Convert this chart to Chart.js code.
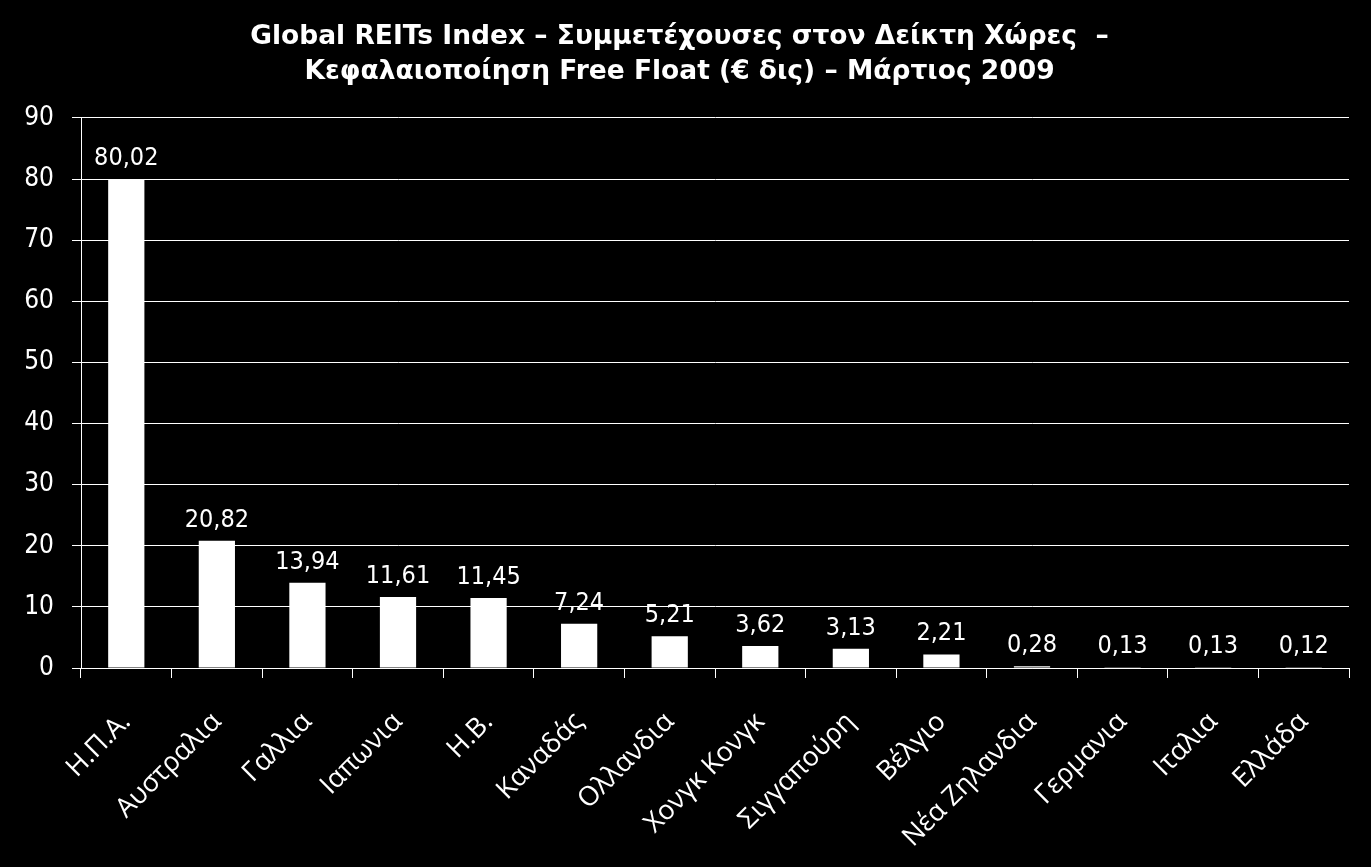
<!DOCTYPE html>
<html>
<head>
<meta charset="utf-8">
<script src="https://cdn.jsdelivr.net/npm/chart.js@4.4.1/dist/chart.umd.min.js"></script>
<style>
  html, body { margin: 0; padding: 0; background: #000; }
  #wrap { width: 1371px; height: 867px; }
</style>
</head>
<body>
<div id="wrap"><canvas id="chart"></canvas></div>
<script>
const countries = ['Η.Π.Α.', 'Αυστραλια', 'Γαλλια', 'Ιαπωνια', 'Η.Β.', 'Καναδάς', 'Ολλανδια',
    'Χονγκ Κονγκ', 'Σιγγαπούρη', 'Βέλγιο', 'Νέα Ζηλανδια', 'Γερμανια', 'Ιταλια', 'Ελλάδα'];
const capValues = [80.02, 20.82, 13.94, 11.61, 11.45, 7.24, 5.21, 3.62, 3.13, 2.21, 0.28, 0.13, 0.13, 0.12];
const titleLines = ['Global REITs Index – Συμμετέχουσες στον Δείκτη Χώρες  –',
    'Κεφαλαιοποίηση Free Float (€ δις) – Μάρτιος 2009'];

const NUM_FONT = "'DejaVu Sans Condensed', 'DejaVu Sans', sans-serif";
const LABEL_FONT = "'Open Sans', 'DejaVu Sans', sans-serif";

// draws the value above each bar, greek style decimals
const valueLabels = {
    id: 'valueLabels',
    afterDatasetsDraw(chart) {
        const ctx = chart.ctx;
        const meta = chart.getDatasetMeta(0);
        ctx.save();
        ctx.fillStyle = '#fff';
        ctx.font = '25px ' + NUM_FONT;
        ctx.textAlign = 'center';
        ctx.textBaseline = 'bottom';
        meta.data.forEach((bar, i) => {
            const txt = capValues[i].toFixed(2).replace('.', ',');
            ctx.fillText(txt, bar.x, bar.y - 8);
        });
        ctx.restore();
    }
};

new Chart(document.getElementById('chart'), {
    type: 'bar',
    data: {
        labels: countries,
        datasets: [{
            data: capValues,
            backgroundColor: '#fff',
            borderWidth: 0,
            barPercentage: 0.4,
            categoryPercentage: 1.0
        }]
    },
    options: {
        responsive: true,
        maintainAspectRatio: false,
        animation: false,
        layout: { padding: { left: 10, right: 22, top: 0, bottom: 4 } },
        plugins: {
            legend: { display: false },
            tooltip: { enabled: false },
            title: {
                display: true,
                text: titleLines,
                color: '#fff',
                font: { family: "'DejaVu Sans', sans-serif", size: 26.5, weight: 'bold', lineHeight: 1.32 },
                padding: { top: 20, bottom: 28 }
            }
        },
        scales: {
            y: {
                min: 0,
                max: 90,
                ticks: { stepSize: 10, color: '#fff', font: { family: NUM_FONT, size: 26 }, padding: 18 },
                grid: { color: '#fff', lineWidth: 1, tickLength: 9 },
                border: { color: '#fff', width: 1 },
                afterFit(scale) { scale.width = 71; }
            },
            x: {
                offset: true,
                ticks: { color: '#fff', font: { family: LABEL_FONT, size: 27 }, maxRotation: 45, minRotation: 45, padding: 28 },
                grid: { offset: true, drawOnChartArea: false, color: '#fff', tickLength: 10 },
                border: { color: '#fff', width: 1 },
                afterFit(scale) { scale.height = 195; }
            }
        }
    },
    plugins: [valueLabels]
});
</script>
</body>
</html>
